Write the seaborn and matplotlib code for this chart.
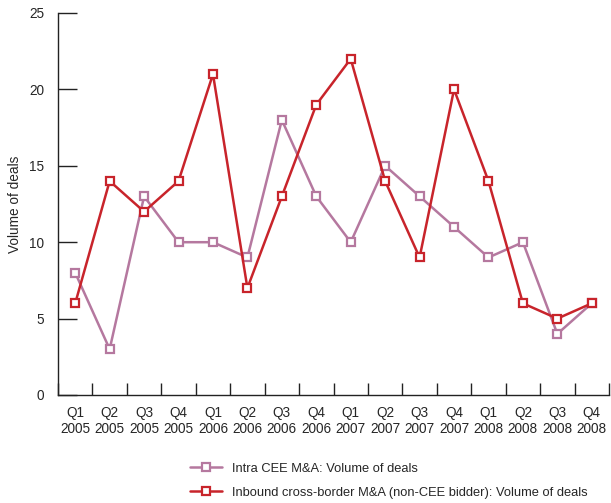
import numpy as np
import pandas as pd
import matplotlib
matplotlib.use("Agg")
import matplotlib.pyplot as plt
import seaborn as sns
from matplotlib.lines import Line2D

quarters = ["Q1", "Q2", "Q3", "Q4"] * 4
years = ["2005"] * 4 + ["2006"] * 4 + ["2007"] * 4 + ["2008"] * 4
tick_labels = [f"{q}\n{y}" for q, y in zip(quarters, years)]

intra_cee = [8, 3, 13, 10, 10, 9, 18, 13, 10, 15, 13, 11, 9, 10, 4, 6]
inbound = [6, 14, 12, 14, 21, 7, 13, 19, 22, 14, 9, 20, 14, 6, 5, 6]

series_names = ["Intra CEE M&A: Volume of deals",
                "Inbound cross-border M&A (non-CEE bidder): Volume of deals"]
colors = ["#b5789f", "#c8242b"]

sns.set_theme(style="white")
plt.rcParams["font.family"] = ["Liberation Sans", "DejaVu Sans"]
plt.rcParams["xtick.bottom"] = True
plt.rcParams["ytick.left"] = True

fig = plt.figure(figsize=(6.11, 5.03), dpi=100)
ax = fig.add_axes([58 / 611, 1 - 395 / 503, 551 / 611, 382 / 503])

pos = np.arange(len(tick_labels))
for name, vals, c in zip(series_names, [intra_cee, inbound], colors):
    df = pd.DataFrame({"x": pos, "y": vals})
    sns.lineplot(data=df, x="x", y="y", ax=ax, color=c, lw=1.8,
                 marker="s", markersize=6, markerfacecolor="white",
                 markeredgecolor=c, markeredgewidth=1.6, label=name, legend=False)

ax.set_xlim(-0.5, len(pos) - 0.5)
ax.set_ylim(0, 25)
ax.set_yticks([0, 5, 10, 15, 20, 25])
ax.set_xticks(np.arange(-0.5, len(pos), 1.0))
ax.set_xticklabels([])
ax.set_xticks(pos, minor=True)
ax.set_xticklabels(tick_labels, minor=True, fontsize=9.8)
ax.tick_params(axis="x", which="major", bottom=True, direction="in", length=9, width=1, color="#222222")
ax.tick_params(axis="x", which="minor", bottom=True, length=0, pad=8)
ax.tick_params(axis="y", left=True, direction="in", length=14, width=1, color="#222222",
               labelsize=9.8, pad=10)

for s in ["top", "right"]:
    ax.spines[s].set_visible(False)
for s in ["left", "bottom"]:
    ax.spines[s].set_color("#222222")
    ax.spines[s].set_linewidth(1)

ax.set_xlabel("")
ax.set_ylabel("Volume of deals", fontsize=9.8, labelpad=5)

handles = [Line2D([], [], color=c, lw=1.8, marker="s", markersize=6,
                  markerfacecolor="white", markeredgecolor=c, markeredgewidth=1.6)
           for c in colors]
fig.legend(handles, series_names, loc="upper left", bbox_to_anchor=(178 / 611, 1 - 451 / 503),
           frameon=False, fontsize=9.3, handlelength=2.5, handletextpad=0.8, labelspacing=0.95)

fig.savefig("out.png", dpi=100)
